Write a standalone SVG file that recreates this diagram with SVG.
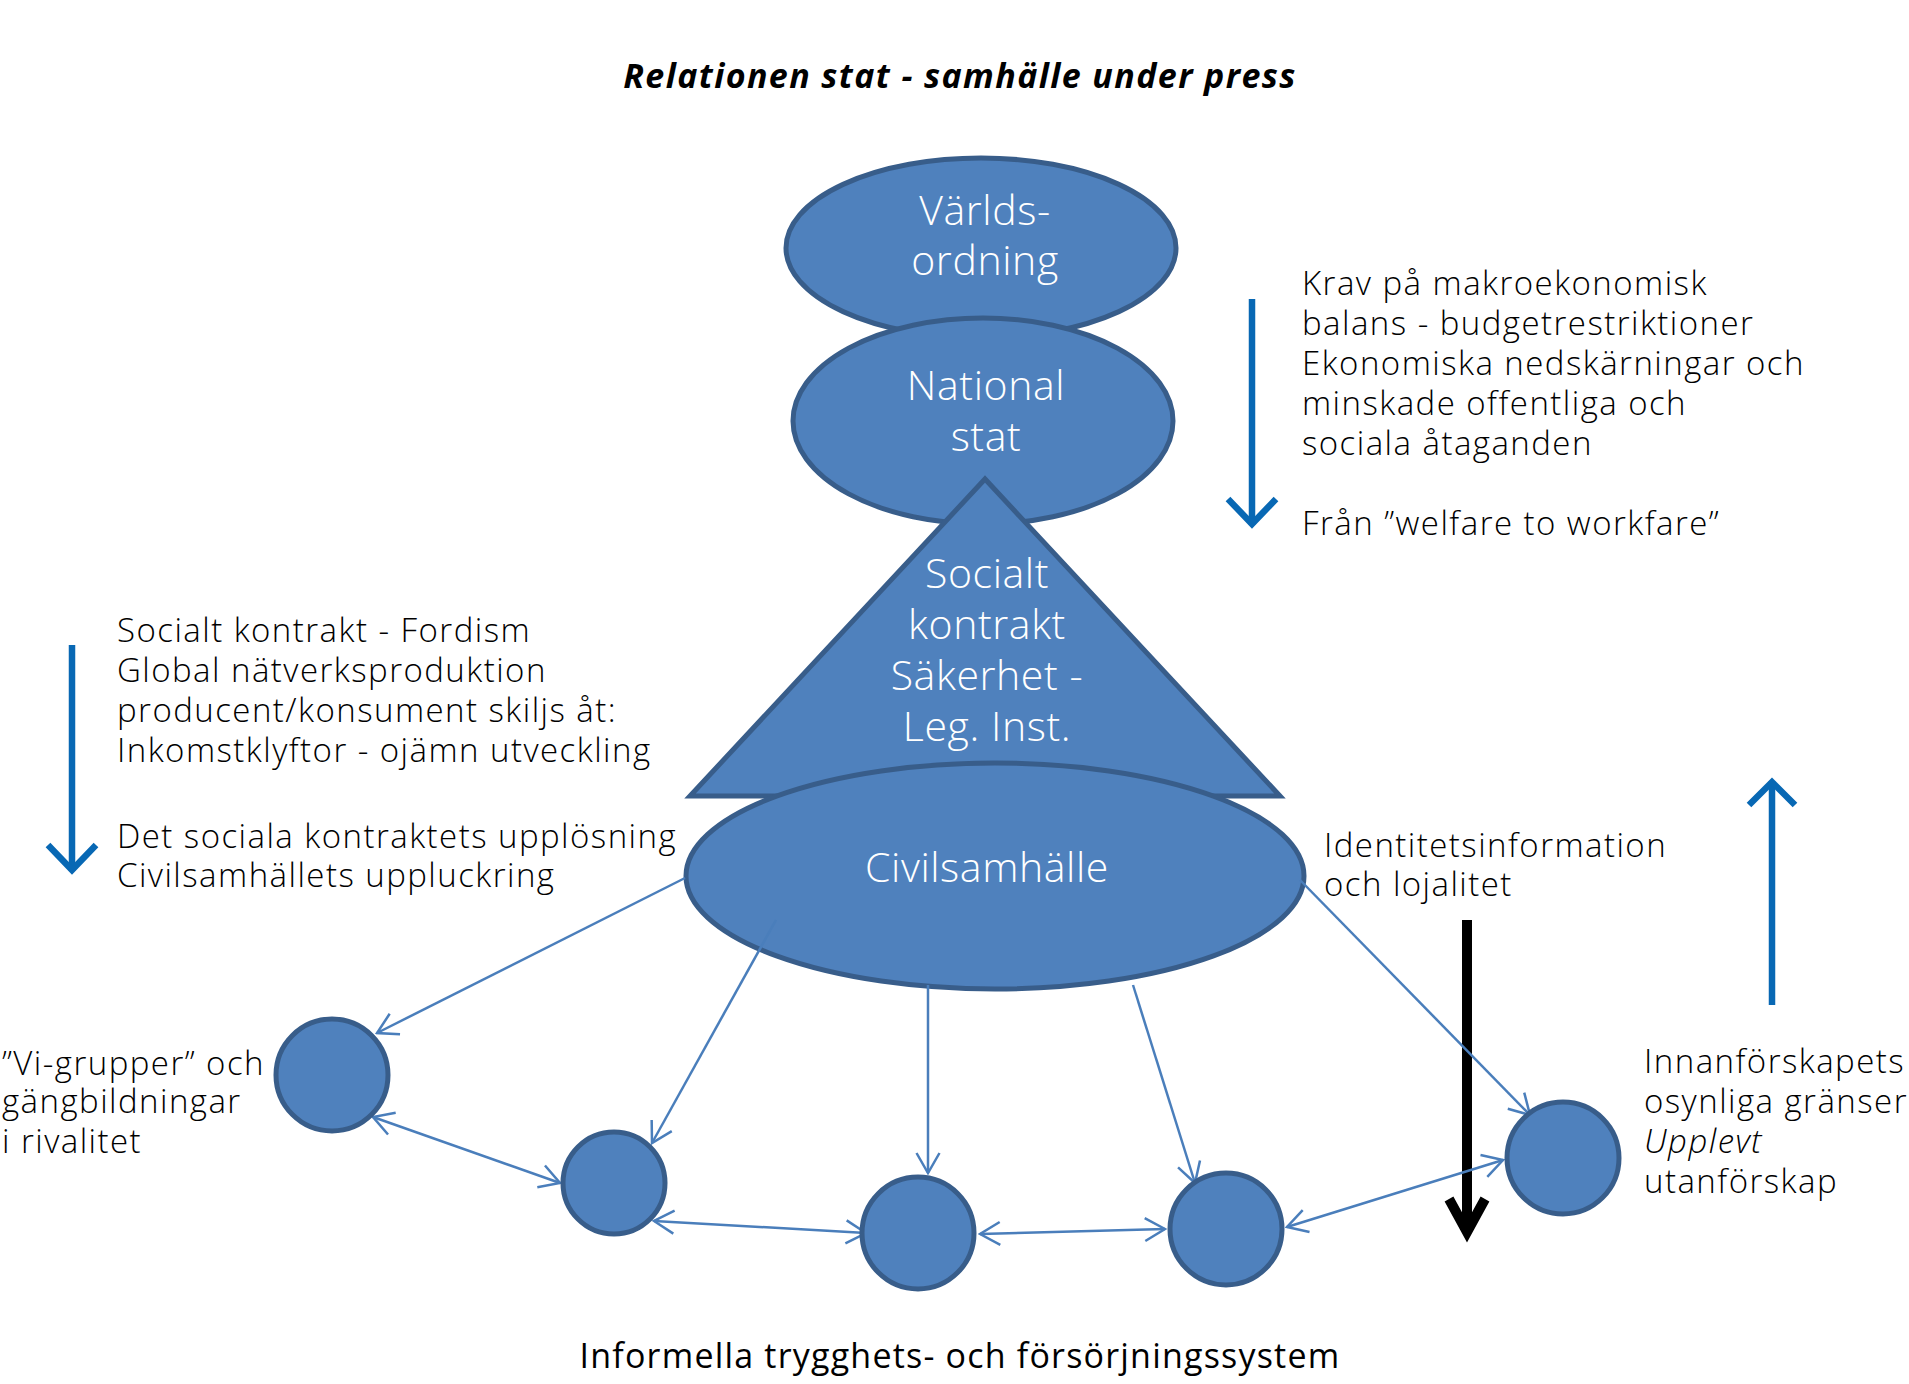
<svg xmlns="http://www.w3.org/2000/svg" width="1909" height="1384" viewBox="0 0 1909 1384">
<style>
.shape{fill:#4F81BD;stroke:#385D8A;stroke-width:5}
.lbl{font-family:"Open Sans","Noto Sans",sans-serif;font-weight:300;font-size:41px;letter-spacing:0.6px;fill:#fff;text-anchor:middle}
.txt{font-family:"Open Sans","Noto Sans",sans-serif;font-weight:300;font-size:33px;letter-spacing:1.45px;fill:#000}
.con{stroke:#4A7EBB;stroke-width:2.5;fill:none}
.big{stroke:#0868B4;stroke-width:6.5;fill:none}
</style>
<defs>
<marker id="ah" viewBox="-24 -14 26 28" refX="0" refY="0" markerWidth="26" markerHeight="28" markerUnits="userSpaceOnUse" orient="auto-start-reverse">
<path d="M-20,-11.5 L0,0 L-20,11.5" fill="none" stroke="#4A7EBB" stroke-width="2.5"/>
</marker>
</defs>
<rect width="1909" height="1384" fill="#fff"/>
<text x="960" y="88" text-anchor="middle" style="font-family:'Open Sans','Noto Sans',sans-serif;font-weight:700;font-style:italic;font-size:34px;letter-spacing:1.4px" fill="#000">Relationen stat - samhälle under press</text>

<g id="varldsordning">
<ellipse class="shape" cx="981" cy="248" rx="195" ry="90"/>
<text class="lbl" x="985" y="225">Världs-</text>
<text class="lbl" x="985" y="275">ordning</text>
</g>
<g id="nationalstat">
<ellipse class="shape" cx="983" cy="421" rx="190" ry="103"/>
<text class="lbl" x="986" y="400">National</text>
<text class="lbl" x="986" y="451">stat</text>
</g>
<g id="socialtkontrakt">
<polygon class="shape" points="985,479 690,796 1280,796"/>
<text class="lbl" x="987" y="588">Socialt</text>
<text class="lbl" x="987" y="639">kontrakt</text>
<text class="lbl" x="987" y="690">Säkerhet -</text>
<text class="lbl" x="987" y="741">Leg. Inst.</text>
</g>
<g id="civilsamhalle">
<ellipse class="shape" cx="995" cy="876" rx="309" ry="113"/>
<text class="lbl" x="987" y="882">Civilsamhälle</text>
</g>

<g id="arrow-left">
<line class="big" x1="72" y1="645" x2="72" y2="871"/>
<polyline class="big" points="48,845 72,870 96,845"/>
</g>
<g id="arrow-right-top">
<line class="big" x1="1252" y1="299" x2="1252" y2="525"/>
<polyline class="big" points="1228,499 1252,524 1276,499"/>
</g>
<g id="arrow-up">
<line class="big" x1="1772" y1="1005" x2="1772" y2="781"/>
<polyline class="big" points="1749,805 1772,782 1795,805"/>
</g>
<g id="arrow-black">
<line x1="1467" y1="920" x2="1467" y2="1232" stroke="#000" stroke-width="10"/>
<polyline points="1449,1199 1467,1232 1485,1199" fill="none" stroke="#000" stroke-width="10"/>
</g>

<g id="connectors">
<line class="con" x1="685" y1="878" x2="377" y2="1033" marker-end="url(#ah)"/>
<line class="con" x1="776" y1="920" x2="652" y2="1143" marker-end="url(#ah)"/>
<line class="con" x1="928" y1="985" x2="928" y2="1173" marker-end="url(#ah)"/>
<line class="con" x1="1133" y1="985" x2="1195" y2="1183" marker-end="url(#ah)"/>
<line class="con" x1="1300" y1="880" x2="1530" y2="1115" marker-end="url(#ah)"/>
<line class="con" x1="373" y1="1117" x2="560" y2="1183" marker-start="url(#ah)" marker-end="url(#ah)"/>
<line class="con" x1="654" y1="1221" x2="866" y2="1233" marker-start="url(#ah)" marker-end="url(#ah)"/>
<line class="con" x1="980" y1="1234" x2="1165" y2="1229" marker-start="url(#ah)" marker-end="url(#ah)"/>
<line class="con" x1="1287" y1="1227" x2="1503" y2="1160" marker-start="url(#ah)" marker-end="url(#ah)"/>
</g>

<g id="c1"><circle class="shape" cx="332" cy="1075" r="56"/></g>
<g id="c2"><circle class="shape" cx="614" cy="1183" r="51"/></g>
<g id="c3"><circle class="shape" cx="918" cy="1233" r="56"/></g>
<g id="c4"><circle class="shape" cx="1226" cy="1229" r="56"/></g>
<g id="c5"><circle class="shape" cx="1563" cy="1158" r="56"/></g>

<g id="text-left">
<text class="txt" x="117" y="642">Socialt kontrakt - Fordism</text>
<text class="txt" x="117" y="682">Global nätverksproduktion</text>
<text class="txt" x="117" y="722">producent/konsument skiljs åt:</text>
<text class="txt" x="117" y="762">Inkomstklyftor - ojämn utveckling</text>
<text class="txt" x="117" y="848">Det sociala kontraktets upplösning</text>
<text class="txt" x="117" y="887">Civilsamhällets uppluckring</text>
</g>
<g id="text-right-top">
<text class="txt" x="1302" y="295">Krav på makroekonomisk</text>
<text class="txt" x="1302" y="335">balans - budgetrestriktioner</text>
<text class="txt" x="1302" y="375">Ekonomiska nedskärningar och</text>
<text class="txt" x="1302" y="415">minskade offentliga och</text>
<text class="txt" x="1302" y="455">sociala åtaganden</text>
<text class="txt" x="1302" y="535">Från ”welfare to workfare”</text>
</g>
<g id="text-identitet">
<text class="txt" x="1324" y="857">Identitetsinformation</text>
<text class="txt" x="1324" y="896">och lojalitet</text>
</g>
<g id="text-innanforskap">
<text class="txt" x="1644" y="1073">Innanförskapets</text>
<text class="txt" x="1644" y="1113">osynliga gränser</text>
<text class="txt" x="1644" y="1153" font-style="italic">Upplevt</text>
<text class="txt" x="1644" y="1193">utanförskap</text>
</g>
<g id="text-vigrupper">
<text class="txt" x="2" y="1075">”Vi-grupper” och</text>
<text class="txt" x="2" y="1113">gängbildningar</text>
<text class="txt" x="2" y="1153">i rivalitet</text>
</g>
<text x="960" y="1368" text-anchor="middle" style="font-family:'Open Sans','Noto Sans',sans-serif;font-weight:400;font-size:34px;letter-spacing:1.2px" fill="#000">Informella trygghets- och försörjningssystem</text>
</svg>
